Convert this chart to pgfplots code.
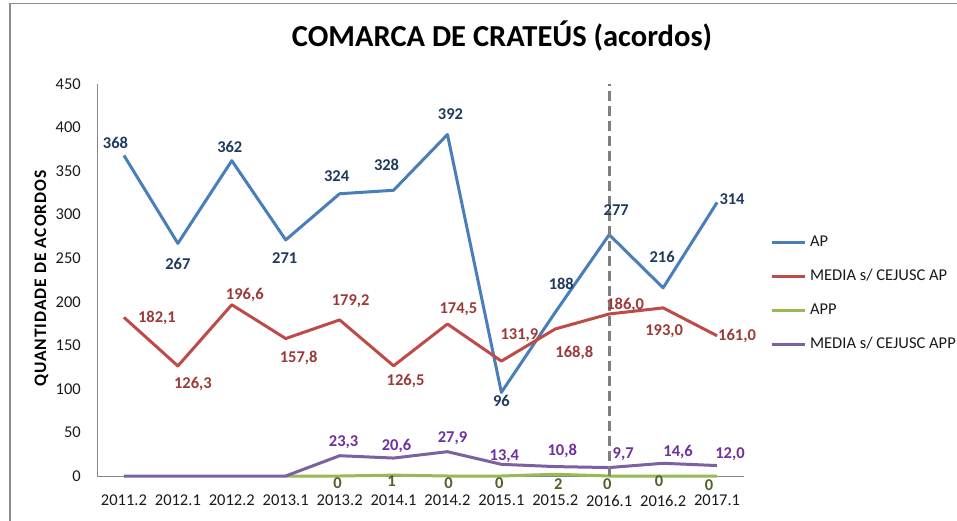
\documentclass[border=0pt]{standalone}
\usepackage{fontspec}
\setmainfont{Carlito}
\newfontfamily\ylabfont[LetterSpace=5.5]{Carlito}
\usepackage{pgfplots}
\usepackage{pgfplotstable}
\pgfplotsset{compat=1.18}

\definecolor{apline}{HTML}{4A7EBB}
\definecolor{aplab}{HTML}{1F3A60}
\definecolor{mapline}{HTML}{BE4B48}
\definecolor{maplab}{HTML}{9C3A38}
\definecolor{appline}{HTML}{98B954}
\definecolor{applab}{HTML}{4F6228}
\definecolor{mappline}{HTML}{7D60A0}
\definecolor{mapplab}{HTML}{7030A0}
\definecolor{axisgray}{HTML}{868686}
\definecolor{framegray}{HTML}{8C8C8C}
\definecolor{dashgray}{HTML}{7F7F7F}
\definecolor{txt}{HTML}{1A1A1A}

\pgfplotstableread{
x y lab dx dy
0 368 368 -8.5 12
1 267 267 0 -21
2 362 362 -2 13
3 271 271 -1 -18
4 324 324 -3 18
5 328 328 -7 25
6 392 392 3 20
7 96 96 0 -9
8 188 188 6 28
9 277 277 7 24
10 216 216 -1 31
11 314 314 15 3
}\tabAP

\pgfplotstableread{
x y lab dx dy
0 182.1 182,1 33 0
1 126.3 126,3 15 -17
2 196.6 196,6 13 10
3 157.8 157,8 13 -19
4 179.2 179,2 11 20
5 126.5 126,5 12 -14
6 174.5 174,5 11 16
7 131.9 131,9 18 27
8 168.8 168,8 19 -23
9 186.0 186,0 16 10
10 193.0 193,0 1 -22
11 161.0 161,0 20 1
}\tabMAP

\pgfplotstableread{
x y lab dx dy
3 0 0 0 0
4 0 0 -2 -7
5 1 1 -2 -6
6 0 0 1 -7
7 0 0 -2 -7
8 2 2 3 -10
9 0 0 -2 -8
10 0 0 -4 -5
11 0 0 -8 -9
}\tabAPP

\pgfplotstableread{
x y lab dx dy
0 0 0 0 0
1 0 0 0 0
2 0 0 0 0
3 0 0 0 0
4 23.3 23,3 4 14
5 20.6 20,6 3 13
6 27.9 27,9 5 14
7 13.4 13,4 3 9
8 10.8 10,8 7 16
9 9.7 9,7 14 14
10 14.6 14,6 15 12
11 12.0 12,0 13 12
}\tabMAPP

\pgfplotsset{
  labs/.style={
    draw=none, forget plot,
    point meta=explicit symbolic,
    nodes near coords,
    visualization depends on={\thisrow{dx}\as\mydx},
    visualization depends on={\thisrow{dy}\as\mydy},
    every node near coord/.append style={
      anchor=center, inner sep=0pt, text height=10.5pt, text depth=0pt,
      xshift=\mydx, yshift=\mydy,
      font=\bfseries\fontsize{16.5}{20}\selectfont, text=#1},
  },
}

\begin{document}
\begin{tikzpicture}
\useasboundingbox (0,0) rectangle (957pt,520pt);
\fill[white] (0,0) rectangle (957pt,520pt);
\draw[framegray, line width=1.5pt] (10pt,-5pt) -- (10pt,516.5pt) -- (965pt,516.5pt);
\begin{axis}[
  at={(97pt,44pt)}, anchor=south west,
  scale only axis, width=647pt, height=392pt,
  xmin=-0.5, xmax=11.5, ymin=0, ymax=450,
  xtick={0,...,11},
  xticklabels={2011.2,2012.1,2012.2,2013.1,2013.2,2014.1,2014.2,2015.1,2015.2,2016.1,2016.2,2017.1},
  ytick={0,50,...,450},
  axis x line*=bottom, axis y line*=left,
  axis line style={draw=axisgray, line width=1pt},
  major tick length=0pt,
  tick label style={font=\fontsize{16.5}{20}\selectfont, text=txt, inner sep=0pt},
  xticklabel style={anchor=north, yshift=-19pt},
  yticklabel style={anchor=east, xshift=-16pt},
  /pgf/number format/assume math mode=true,
  clip=false,
  title={COMARCA DE CRATEÚS (acordos)},
  title style={at={(axis description cs:0.626,1.107)}, anchor=center, inner sep=0pt,
    font=\bfseries\fontsize{30.5}{36}\selectfont, text=black},
  ylabel={QUANTIDADE DE ACORDOS},
  ylabel style={at={(axis description cs:-0.0858,0.504)}, anchor=center, inner sep=0pt,
    font=\ylabfont\bfseries\fontsize{17.5}{20}\selectfont, text=black, rotate=0},
  legend cell align=left,
  legend style={at={(axis description cs:1.040,0.617)}, anchor=north west,
    draw=none, fill=none, inner sep=0pt, row sep=18pt, column sep=4pt,
    nodes={inner sep=0pt, text height=12pt, text depth=4pt},
    font=\fontsize{16.5}{20}\selectfont, text=txt},
  legend image code/.code={\draw[#1, line width=3pt] (0pt,0pt) -- (33pt,0pt);},
  every axis plot/.append style={line width=3pt, line join=round},
]
\addplot[apline, mark=none] table[x=x, y=y] {\tabAP};
\addlegendentry{AP}
\addplot[mapline, mark=none] table[x=x, y=y] {\tabMAP};
\addlegendentry{MEDIA s/ CEJUSC AP}
\addplot[appline, mark=none] table[x=x, y=y] {\tabAPP};
\addlegendentry{APP}
\addplot[mappline, mark=none] table[x=x, y=y] {\tabMAPP};
\addlegendentry{MEDIA s/ CEJUSC APP}
\addplot[dashgray, line width=3pt, dash pattern=on 10pt off 5pt, forget plot] coordinates {(9,0) (9,450)};
\addplot[labs=aplab] table[x=x, y=y, meta=lab] {\tabAP};
\addplot[labs=maplab] table[x=x, y=y, meta=lab] {\tabMAP};
\addplot[labs=applab, skip coords between index={0}{1}] table[x=x, y=y, meta=lab] {\tabAPP};
\addplot[labs=mapplab, skip coords between index={0}{4}] table[x=x, y=y, meta=lab] {\tabMAPP};
\end{axis}
\end{tikzpicture}
\end{document}
